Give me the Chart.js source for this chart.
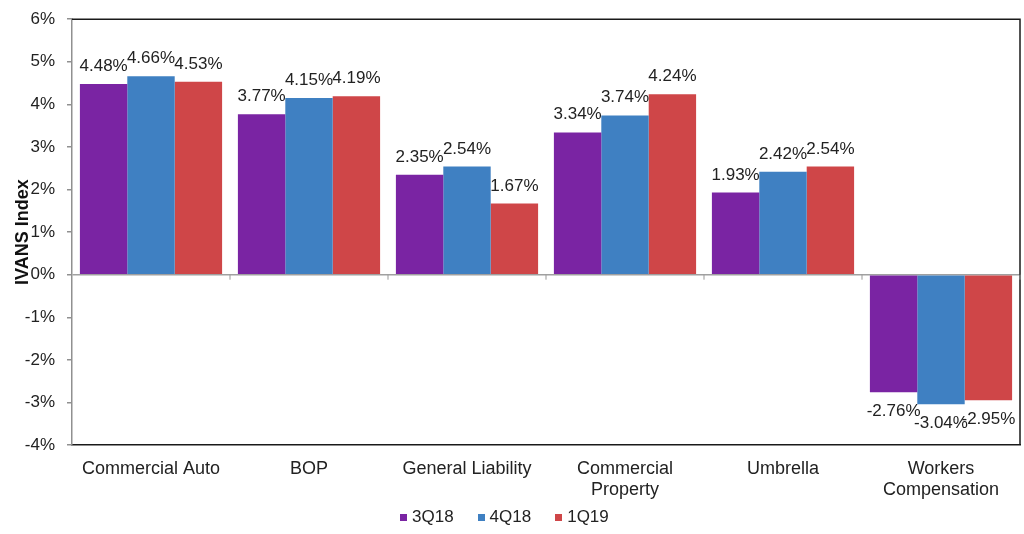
<!DOCTYPE html>
<html>
<head>
<meta charset="utf-8">
<script src="https://cdn.jsdelivr.net/npm/chart.js@4/dist/chart.umd.min.js"></script>
<style>
  html, body { margin: 0; padding: 0; background: #fff; }
  #wrap { position: relative; width: 1024px; height: 534px; }
  #legend {
    position: absolute; left: 400px; top: 507px; line-height: 20px;
    display: flex; font: 17px "Liberation Sans", Arial, sans-serif; color: #222;
  }
  #legend span.item { display: flex; align-items: center; margin-right: 24px; }
  #legend span.box { width: 7px; height: 7px; margin-right: 5px; display: inline-block; }
</style>
</head>
<body>
<div id="wrap">
  <canvas id="chart" width="1024" height="534"></canvas>
  <div id="legend"></div>
</div>
<script>
const categories = [
  'Commercial Auto',
  'BOP',
  'General Liability',
  ['Commercial', 'Property'],
  'Umbrella',
  ['Workers', 'Compensation'],
];
const series3Q18 = [4.48, 3.77, 2.35, 3.34, 1.93, -2.76];
const series4Q18 = [4.66, 4.15, 2.54, 3.74, 2.42, -3.04];
const series1Q19 = [4.53, 4.19, 1.67, 4.24, 2.54, -2.95];
const seriesNames = ['3Q18', '4Q18', '1Q19'];
const seriesColors = ['#7a24a3', '#3f80c2', '#cf4648'];
const yTicks = [-4, -3, -2, -1, 0, 1, 2, 3, 4, 5, 6];

const fontFamily = '"Liberation Sans", Arial, sans-serif';

// value labels above / below each bar
const barLabels = {
  id: 'barLabels',
  afterDatasetsDraw(chart) {
    const ctx = chart.ctx;
    ctx.save();
    ctx.font = `17px ${fontFamily}`;
    ctx.fillStyle = '#222';
    ctx.textAlign = 'center';
    chart.data.datasets.forEach((ds, di) => {
      chart.getDatasetMeta(di).data.forEach((bar, i) => {
        const v = ds.data[i];
        const text = `${v.toFixed(2)}%`;
        if (v >= 0) {
          ctx.textBaseline = 'alphabetic';
          ctx.fillText(text, bar.x, bar.y - 13);
        } else {
          ctx.textBaseline = 'top';
          ctx.fillText(text, bar.x, bar.y + 11);
        }
      });
    });
    ctx.restore();
  },
};

// frame: dark top/right, short ticks on zero line
const frame = {
  id: 'frame',
  afterDraw(chart) {
    const { ctx, chartArea: a, scales } = chart;
    ctx.save();
    ctx.strokeStyle = '#1a1a1a';
    ctx.lineWidth = 1.5;
    ctx.beginPath();
    ctx.moveTo(a.left, a.top);
    ctx.lineTo(a.right, a.top);
    ctx.lineTo(a.right, a.bottom);
    ctx.stroke();
    const y0 = scales.y.getPixelForValue(0);
    const step = (a.right - a.left) / categories.length;
    ctx.strokeStyle = '#999';
    ctx.lineWidth = 1;
    ctx.beginPath();
    for (let i = 1; i <= categories.length; i++) {
      const x = a.left + step * i;
      ctx.moveTo(x, y0);
      ctx.lineTo(x, y0 + 5);
    }
    ctx.stroke();
    ctx.restore();
  },
};

const datasets = [series3Q18, series4Q18, series1Q19].map((data, i) => ({
  label: seriesNames[i],
  data,
  backgroundColor: seriesColors[i],
  borderWidth: 0,
  categoryPercentage: 0.9,
  barPercentage: 1.0,
}));

new Chart(document.getElementById('chart'), {
  type: 'bar',
  data: { labels: categories, datasets },
  options: {
    responsive: false,
    animation: false,
    devicePixelRatio: 1,
    layout: { padding: { top: 0, right: 4, left: 0, bottom: 0 } },
    plugins: {
      legend: { display: false },
      tooltip: { enabled: false },
    },
    scales: {
      x: {
        afterFit(scale) {
          scale.height = 89;
        },
        grid: { display: false },
        border: { display: true, color: '#1a1a1a', width: 1.5 },
        ticks: {
          color: '#222',
          font: { family: fontFamily, size: 18, lineHeight: 1.2 },
          padding: 5,
          maxRotation: 0,
          autoSkip: false,
        },
      },
      y: {
        min: -4,
        max: 6,
        afterBuildTicks(scale) {
          scale.ticks = yTicks.map((v) => ({ value: v }));
        },
        afterFit(scale) {
          scale.width = 72;
        },
        grid: {
          drawOnChartArea: true,
          color: (c) => (c.tick && c.tick.value === 0 ? '#a0a0a0' : 'rgba(0,0,0,0)'),
          tickColor: '#909090',
          tickLength: 5,
          lineWidth: 1.5,
        },
        border: { display: true, color: '#909090', width: 1.5 },
        ticks: {
          color: '#222',
          font: { family: fontFamily, size: 17, lineHeight: 0.85 },
          padding: 12,
          callback: (v) => `${v}%`,
        },
        title: {
          display: true,
          text: 'IVANS Index',
          color: '#111',
          font: { family: fontFamily, size: 18, weight: 'bold' },
          padding: { top: 12, bottom: 0 },
        },
      },
    },
  },
  plugins: [barLabels, frame],
});

const legendEl = document.getElementById('legend');
seriesNames.forEach((name, i) => {
  const item = document.createElement('span');
  item.className = 'item';
  item.innerHTML = `<span class="box" style="background:${seriesColors[i]}"></span>${name}`;
  legendEl.appendChild(item);
});
</script>
</body>
</html>
